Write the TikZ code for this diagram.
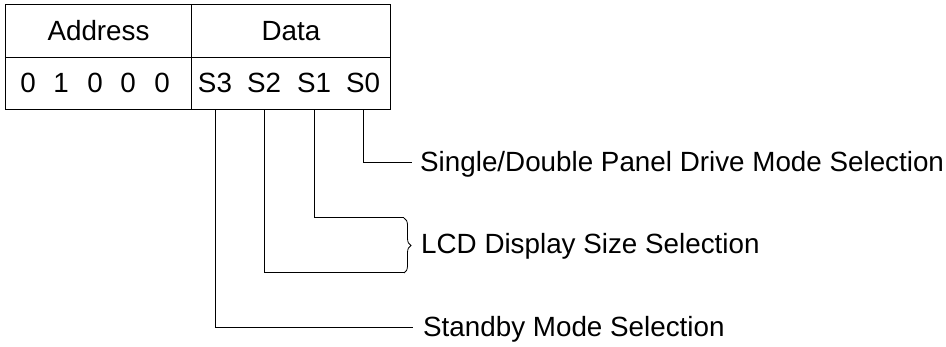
\documentclass[tikz,border=0pt]{standalone}
\usepackage{fontspec}
\setmainfont{Liberation Sans}
\usetikzlibrary{decorations.pathreplacing}
\begin{document}
\begin{tikzpicture}[x=1pt,y=-1pt,
  cell/.style={draw,line width=1pt,inner sep=0pt,anchor=north west},
  txt/.style={inner sep=0pt,font=\fontsize{27.8}{32}\selectfont},
  bit/.style={txt,anchor=base},
  lbl/.style={txt,anchor=base west},
  wire/.style={line width=1pt}]
\useasboundingbox (0,0) rectangle (946,347);
% table cells
\node[cell,minimum width=186pt,minimum height=53pt] (ah) at (5,4) {};
\node[cell,minimum width=199pt,minimum height=53pt] (dh) at (191,4) {};
\node[cell,minimum width=186pt,minimum height=52pt] (ab) at (5,57) {};
\node[cell,minimum width=199pt,minimum height=52pt] (db) at (191,57) {};
\node[txt] (at) at (ah.center) {Address};
\node[txt] (dt) at (dh.center) {Data};
% address bits
\node[bit] (a4) at (28,93) {0};
\node[bit] (a3) at (61,93) {1};
\node[bit] (a2) at (95,93) {0};
\node[bit] (a1) at (128,93) {0};
\node[bit] (a0) at (162,93) {0};
% data bits
\node[bit] (s3) at (215,93) {S3};
\node[bit] (s2) at (264,93) {S2};
\node[bit] (s1) at (314,93) {S1};
\node[bit] (s0) at (363,93) {S0};
% labels
\node[lbl] (l0) at (420,172) {Single/Double Panel Drive Mode Selection};
\node[lbl] (l1) at (421,254) {LCD Display Size Selection};
\node[lbl] (l3) at (423,337) {Standby Mode Selection};
% corner coordinates
\coordinate (c0) at (363,163);
\coordinate (c1) at (314,218);
\coordinate (c2) at (264,273);
\coordinate (c3) at (215,328);
\coordinate (e0) at (412,163);
\coordinate (e1) at (404,218);
\coordinate (e2) at (404,273);
\coordinate (e3) at (413,328);
% connectors
\draw[wire] (s0 |- db.south) -- (c0) -- (e0);
\draw[wire] (s1 |- db.south) -- (c1) -- (e1);
\draw[wire] (s2 |- db.south) -- (c2) -- (e2);
\draw[wire] (s3 |- db.south) -- (c3) -- (e3);
% brace
\draw[line width=0.8pt,decorate,decoration={brace,amplitude=7pt}]
  (e1) -- (e2);
\end{tikzpicture}
\end{document}
